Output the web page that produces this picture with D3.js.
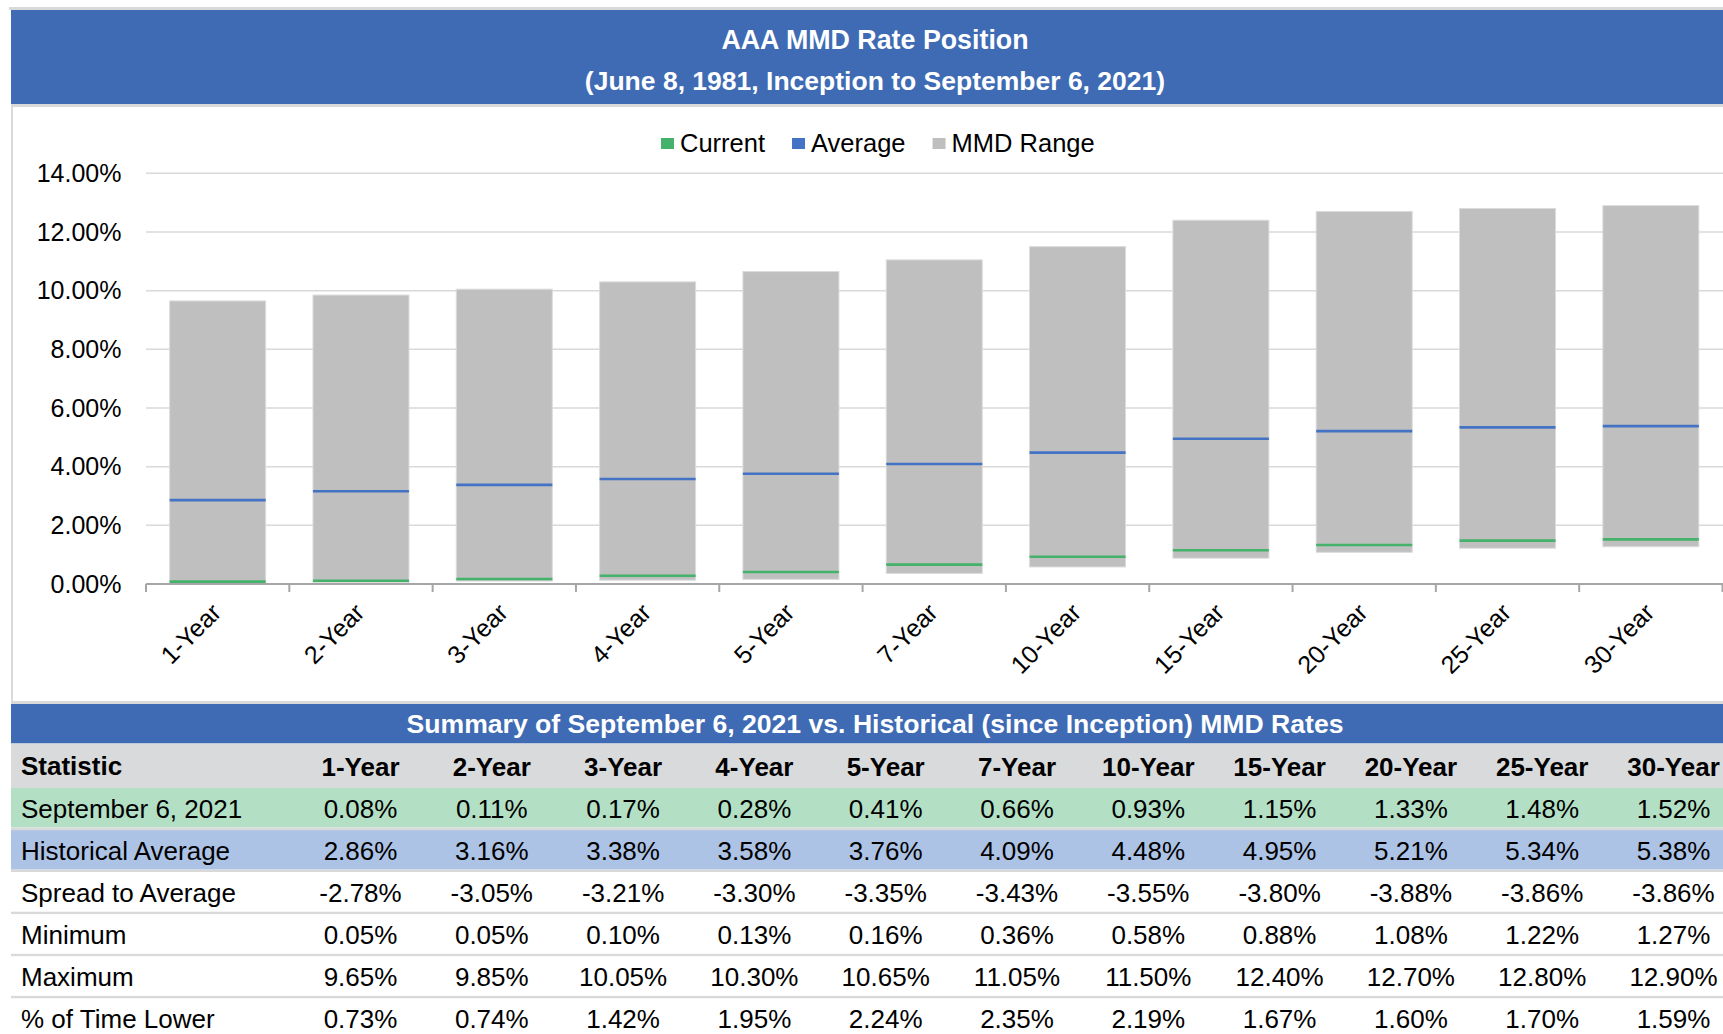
<!DOCTYPE html>
<html>
<head>
<meta charset="utf-8">
<script src="https://cdn.jsdelivr.net/npm/d3@7"></script>
<style>
  html, body { margin: 0; padding: 0; background: #fff; }
  svg { display: block; font-family: "Liberation Sans", Arial, sans-serif; }
</style>
</head>
<body>
<svg id="chart" width="1723" height="1034"></svg>
<script>
// values
const tenors = ["1-Year","2-Year","3-Year","4-Year","5-Year","7-Year","10-Year","15-Year","20-Year","25-Year","30-Year"];
const current = [0.08, 0.11, 0.17, 0.28, 0.41, 0.66, 0.93, 1.15, 1.33, 1.48, 1.52];
const average = [2.86, 3.16, 3.38, 3.58, 3.76, 4.09, 4.48, 4.95, 5.21, 5.34, 5.38];
const spread = [-2.78, -3.05, -3.21, -3.30, -3.35, -3.43, -3.55, -3.80, -3.88, -3.86, -3.86];
const minimum = [0.05, 0.05, 0.10, 0.13, 0.16, 0.36, 0.58, 0.88, 1.08, 1.22, 1.27];
const maximum = [9.65, 9.85, 10.05, 10.30, 10.65, 11.05, 11.50, 12.40, 12.70, 12.80, 12.90];
const timeLower = [0.73, 0.74, 1.42, 1.95, 2.24, 2.35, 2.19, 1.67, 1.60, 1.70, 1.59];
const yTicks = [0, 2, 4, 6, 8, 10, 12, 14];
const legendItems = ["Current", "Average", "MMD Range"];

const tableRows = [
  {label: "September 6, 2021", values: current, fill: "#b3e0c5"},
  {label: "Historical Average", values: average, fill: "#adc3e5"},
  {label: "Spread to Average", values: spread, fill: "#ffffff"},
  {label: "Minimum", values: minimum, fill: "#ffffff"},
  {label: "Maximum", values: maximum, fill: "#ffffff"},
  {label: "% of Time Lower", values: timeLower, fill: "#ffffff"}
];

const blue = "#3e6bb4", lineGray = "#d9d9d9";
const colCurrent = "#45b26b", colAverage = "#4472c4", colRange = "#bfbfbf";
const pct = d => d.toFixed(2) + "%";

const svg = d3.select("#chart");
const W = 1723, left = 11;

// ---- title banner
svg.append("rect").attr("x", left - 2).attr("y", 7).attr("width", W).attr("height", 3).attr("fill", lineGray);
svg.append("rect").attr("x", left).attr("y", 10).attr("width", W).attr("height", 94).attr("fill", blue);
svg.append("text").attr("x", 875).attr("y", 40).attr("dy", "0.35em").attr("text-anchor", "middle")
  .attr("fill", "#fff").attr("font-weight", "bold").attr("font-size", 26.8).text("AAA MMD Rate Position");
svg.append("text").attr("x", 875).attr("y", 81).attr("dy", "0.35em").attr("text-anchor", "middle")
  .attr("fill", "#fff").attr("font-weight", "bold").attr("font-size", 26.5).text("(June 8, 1981, Inception to September 6, 2021)");

// chart area frame
svg.append("rect").attr("x", left).attr("y", 104).attr("width", W).attr("height", 3).attr("fill", lineGray);
svg.append("rect").attr("x", left).attr("y", 104).attr("width", 2).attr("height", 600).attr("fill", lineGray);
svg.append("rect").attr("x", left).attr("y", 701).attr("width", W).attr("height", 3).attr("fill", lineGray);

// ---- scales
const x = d3.scaleBand().domain(tenors).range([146, 1722.5]).paddingInner(0.33).paddingOuter(0.165);
const y = d3.scaleLinear().domain([0, 14]).range([584, 173.3]);

// gridlines
svg.append("g").selectAll("line").data(yTicks.filter(d => d > 0)).enter().append("line")
  .attr("x1", 146).attr("x2", W).attr("y1", d => y(d)).attr("y2", d => y(d))
  .attr("stroke", lineGray).attr("stroke-width", 1.5);

// y axis labels
svg.append("g").selectAll("text").data(yTicks).enter().append("text")
  .attr("x", 121.5).attr("y", d => y(d)).attr("dy", "0.35em").attr("text-anchor", "end")
  .attr("font-size", 25).attr("fill", "#000").text(d => pct(d));

// range bars
const idx = d3.range(tenors.length);
svg.append("g").selectAll("rect").data(idx).enter().append("rect")
  .attr("x", i => x(tenors[i])).attr("width", x.bandwidth())
  .attr("y", i => y(maximum[i])).attr("height", i => y(minimum[i]) - y(maximum[i]))
  .attr("fill", colRange).attr("stroke", "#dcdcdc").attr("stroke-width", 1);

// average dashes
svg.append("g").selectAll("line").data(idx).enter().append("line")
  .attr("x1", i => x(tenors[i])).attr("x2", i => x(tenors[i]) + x.bandwidth())
  .attr("y1", i => y(average[i])).attr("y2", i => y(average[i]))
  .attr("stroke", colAverage).attr("stroke-width", 2.6);

// current dashes
svg.append("g").selectAll("line").data(idx).enter().append("line")
  .attr("x1", i => x(tenors[i])).attr("x2", i => x(tenors[i]) + x.bandwidth())
  .attr("y1", i => y(current[i])).attr("y2", i => y(current[i]))
  .attr("stroke", colCurrent).attr("stroke-width", 2.6);

// x axis
const xAxis = svg.append("g").attr("transform", "translate(0," + y(0) + ")");
xAxis.append("line").attr("x1", 146).attr("x2", W).attr("stroke", "#a6a6a6").attr("stroke-width", 2);
xAxis.selectAll(".tick").data(d3.range(tenors.length + 1)).enter().append("line")
  .attr("x1", i => 146 + i * x.step()).attr("x2", i => 146 + i * x.step())
  .attr("y1", 0).attr("y2", 8).attr("stroke", "#a6a6a6").attr("stroke-width", 2);
svg.append("g").selectAll("text").data(tenors).enter().append("text")
  .attr("transform", d => "translate(" + (x(d) + x.bandwidth() / 2 + 5) + ",614) rotate(-45)")
  .attr("text-anchor", "end").attr("font-size", 25).attr("fill", "#000").text(d => d);

// legend
const legendColors = [colCurrent, colAverage, colRange];
let lx = 661;
legendItems.forEach((name, i) => {
  svg.append("rect").attr("x", lx).attr("y", 138).attr("width", 13).attr("height", 11).attr("fill", legendColors[i]);
  const t = svg.append("text").attr("x", lx + 19).attr("y", 143.5).attr("dy", "0.35em")
    .attr("font-size", 25.5).attr("fill", "#000").text(name);
  lx += 19 + t.node().getComputedTextLength() + 27;
});

// ---- summary table
svg.append("rect").attr("x", left).attr("y", 704).attr("width", W).attr("height", 39.5).attr("fill", blue);
svg.append("text").attr("x", 875).attr("y", 723.5).attr("dy", "0.35em").attr("text-anchor", "middle")
  .attr("fill", "#fff").attr("font-weight", "bold").attr("font-size", 26.6)
  .text("Summary of September 6, 2021 vs. Historical (since Inception) MMD Rates");

const col = d3.scalePoint().domain(tenors).range([360.5, 1673.5]);

svg.append("rect").attr("x", left).attr("y", 743.5).attr("width", W).attr("height", 44.5).attr("fill", "#d9dadc");
svg.append("text").attr("x", 21).attr("y", 766).attr("dy", "0.35em").attr("font-weight", "bold")
  .attr("font-size", 26).attr("fill", "#000").text("Statistic");
svg.append("g").selectAll("text").data(tenors).enter().append("text")
  .attr("x", d => col(d)).attr("y", 767).attr("dy", "0.35em").attr("text-anchor", "middle")
  .attr("font-weight", "bold").attr("font-size", 26).attr("fill", "#000").text(d => d);

const rowStep = 42.1, rowTop = 788;
tableRows.forEach((row, r) => {
  const top = rowTop + r * rowStep;
  const g = svg.append("g");
  g.append("rect").attr("x", left).attr("y", top).attr("width", W).attr("height", rowStep - 2.6).attr("fill", row.fill);
  g.append("rect").attr("x", left).attr("y", top + rowStep - 2.6).attr("width", W).attr("height", 2.6).attr("fill", lineGray);
  g.append("text").attr("x", 21).attr("y", top + 20.5).attr("dy", "0.35em")
    .attr("font-size", 26).attr("fill", "#000").text(row.label);
  g.selectAll(".v").data(row.values).enter().append("text")
    .attr("x", (d, i) => col(tenors[i])).attr("y", top + 20.5).attr("dy", "0.35em")
    .attr("text-anchor", "middle").attr("font-size", 26).attr("fill", "#000").text(d => pct(d));
});
</script>
</body>
</html>
